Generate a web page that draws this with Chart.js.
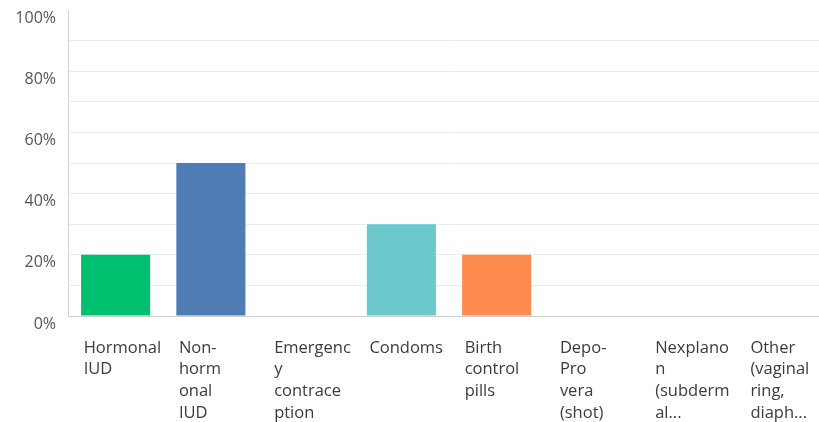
<!DOCTYPE html>
<html>
<head>
<meta charset="utf-8">
<script src="https://cdn.jsdelivr.net/npm/chart.js@4/dist/chart.umd.min.js"></script>
<style>
  html, body { margin: 0; padding: 0; background: #fff; overflow: hidden; }
  #wrap { width: 830px; height: 422px; }
</style>
</head>
<body>
<div id="wrap"><canvas id="chart" width="830" height="422"></canvas></div>
<script>
// Answer choices (wrapped as shown under each bar)
const categories = [
  ["Hormonal", "IUD"],
  ["Non-", "horm", "onal", "IUD"],
  ["Emergenc", "y", "contrace", "ption"],
  ["Condoms"],
  ["Birth", "control", "pills"],
  ["Depo-", "Pro", "vera", "(shot)"],
  ["Nexplano", "n", "(subderm", "al..."],
  ["Other", "(vaginal", "ring,", "diaph..."]
];
// Share of respondents, percent
const percentages = [20, 50, 0, 30, 20, 0, 0, 0];
const barColors = ["#00BF6F", "#507CB6", "#F05B24", "#6BC8CD", "#FF8B4F", "#7FD0A7", "#A18BC5", "#F9BE00"];
const yTickLabels = [0, 20, 40, 60, 80, 100];

new Chart(document.getElementById('chart'), {
  type: 'bar',
  data: {
    labels: categories,
    datasets: [{
      data: percentages,
      backgroundColor: barColors,
      borderWidth: 0,
      categoryPercentage: 1,
      barPercentage: 0.725
    }]
  },
  options: {
    responsive: false,
    animation: false,
    devicePixelRatio: 1,
    layout: { padding: { top: 10, right: 0, bottom: 0, left: 0 } },
    plugins: { legend: { display: false }, tooltip: { enabled: false } },
    scales: {
      x: {
        grid: { display: false, drawTicks: false },
        border: { display: true, color: '#cfcfcf', width: 1 },
        ticks: {
          autoSkip: false,
          maxRotation: 0,
          minRotation: 0,
          align: 'start',
          labelOffset: -32,
          padding: 21,
          color: '#3b3b3b',
          font: { family: '"Open Sans", sans-serif', size: 16.5, lineHeight: 1.32 }
        },
        afterFit: (scale) => {
          scale.height = 106;
          scale.paddingLeft = 0;
          scale.paddingRight = 0;
        }
      },
      y: {
        min: 0,
        max: 100,
        grid: {
          drawTicks: false,
          color: (ctx) => (ctx.tick && ctx.tick.value === 100) ? 'rgba(0,0,0,0)' : '#ececec',
          lineWidth: 1
        },
        border: { display: true, color: '#d4d4d4', width: 1 },
        ticks: {
          stepSize: 10,
          padding: 12,
          labelOffset: 8,
          color: '#555',
          font: { family: '"Open Sans", sans-serif', size: 16 },
          callback: (v) => yTickLabels.includes(v) ? v + '%' : ''
        },
        afterFit: (scale) => {
          scale.width = 68;
          scale.paddingTop = 0;
          scale.paddingBottom = 0;
        }
      }
    }
  }
});
</script>
</body>
</html>
